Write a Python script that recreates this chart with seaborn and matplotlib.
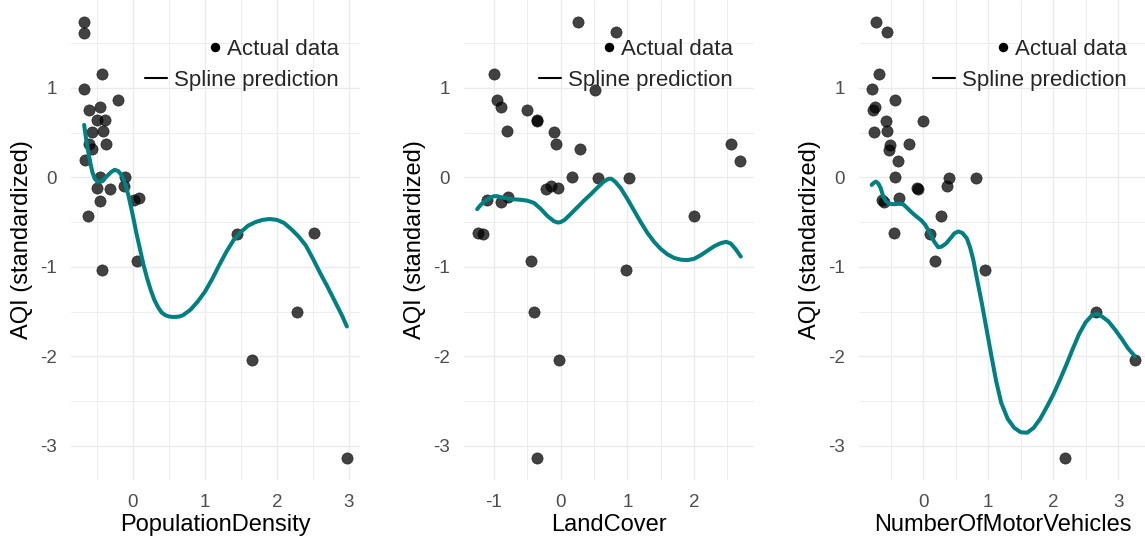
import matplotlib
matplotlib.use("Agg")
import matplotlib.pyplot as plt
from matplotlib.ticker import MultipleLocator
from matplotlib.lines import Line2D
import seaborn as sns
import pandas as pd

# ---------------- data ----------------
pd_x = [-0.674, -0.674, -0.43, -0.674, -0.20, -0.60, -0.46, -0.49, -0.38, -0.57, -0.415,
        -0.60, -0.56, -0.37, -0.66, -0.45, -0.107, -0.49, -0.32, -0.12, -0.46, 0.018,
        0.083, -0.615, 1.44, 2.51, 0.055, -0.43, 2.28, 1.66, 2.97]
pd_y = [1.74, 1.62, 1.157, 0.985, 0.866, 0.754, 0.79, 0.64, 0.64, 0.51, 0.52,
        0.374, 0.315, 0.374, 0.19, 0.009, 0.002, -0.12, -0.13, -0.10, -0.26, -0.25,
        -0.23, -0.43, -0.63, -0.62, -0.94, -1.04, -1.506, -2.04, -3.14]
pd_curve_x = [-0.674, -0.65, -0.62, -0.59, -0.56, -0.53, -0.49, -0.45, -0.40, -0.35, -0.30,
              -0.25, -0.20, -0.15, -0.10, -0.06, -0.03, 0.0, 0.05, 0.10, 0.15, 0.20, 0.25,
              0.30, 0.35, 0.40, 0.45, 0.50, 0.55, 0.60, 0.65, 0.70, 0.80, 0.90, 1.0, 1.1,
              1.2, 1.3, 1.4, 1.5, 1.6, 1.7, 1.8, 1.9, 2.0, 2.1, 2.2, 2.3, 2.4, 2.5, 2.6,
              2.7, 2.8, 2.9, 2.97]
pd_curve_y = [0.587, 0.45, 0.30, 0.17, 0.06, -0.01, -0.05, -0.05, -0.02, 0.02, 0.06,
              0.085, 0.07, 0.02, -0.08, -0.20, -0.31, -0.42, -0.62, -0.80, -0.98, -1.13, -1.26,
              -1.37, -1.45, -1.51, -1.54, -1.555, -1.56, -1.56, -1.555, -1.54, -1.48, -1.39, -1.28, -1.14,
              -0.98, -0.83, -0.70, -0.61, -0.54, -0.50, -0.475, -0.465, -0.475, -0.51, -0.58, -0.66, -0.76, -0.91, -1.07,
              -1.22, -1.38, -1.54, -1.667]

lc_x = [0.26, 0.835, -1.0, 0.51, -0.955, -0.89, -0.5, -0.355, -0.36, -0.8, -0.1,
        -0.075, 0.295, 2.55, 2.69, 0.175, 0.56, 1.025, -0.215, -0.15, -0.04, -1.11,
        -0.89, -0.79, 2.0, -1.24, -1.17, -0.44, 0.975, -0.4, -0.03, -0.35]
lc_y = [1.74, 1.63, 1.157, 0.978, 0.866, 0.79, 0.754, 0.635, 0.64, 0.523, 0.512,
        0.37, 0.315, 0.374, 0.188, 0.009, -0.01, -0.01, -0.13, -0.095, -0.12, -0.25,
        -0.27, -0.22, -0.43, -0.62, -0.635, -0.94, -1.04, -1.506, -2.04, -3.14]
lc_curve_x = [-1.25, -1.2, -1.15, -1.1, -1.05, -1.0, -0.95, -0.9, -0.8, -0.7, -0.6, -0.5,
              -0.4, -0.3, -0.2, -0.1, -0.04, 0.0, 0.06, 0.15, 0.25, 0.35, 0.45, 0.55, 0.65,
              0.72, 0.76, 0.82, 0.9, 1.0, 1.1, 1.2, 1.3, 1.4, 1.5, 1.6, 1.7, 1.8, 1.9, 2.0,
              2.1, 2.2, 2.3, 2.4, 2.48, 2.55, 2.62, 2.70]
lc_curve_y = [-0.355, -0.31, -0.275, -0.25, -0.225, -0.21, -0.21, -0.22, -0.235, -0.245, -0.25, -0.26,
              -0.285, -0.35, -0.43, -0.49, -0.505, -0.50, -0.475, -0.41, -0.335, -0.26, -0.19, -0.115, -0.045,
              -0.015, -0.015, -0.05, -0.12, -0.24, -0.37, -0.50, -0.62, -0.72, -0.80, -0.86, -0.90, -0.92, -0.925, -0.91,
              -0.87, -0.82, -0.77, -0.735, -0.72, -0.74, -0.80, -0.885]

mv_x = [-0.728, -0.554, -0.677, -0.794, -0.435, -0.743, -0.77, -0.574, -0.01, -0.758,
        -0.563, -0.51, -0.215, -0.523, -0.385, -0.435, 0.40, 0.81, -0.092, -0.085, 0.37,
        -0.64, -0.605, -0.37, 0.272, -0.45, 0.103, 0.18, 0.95, 2.657, 3.257, 2.18]
mv_y = [1.74, 1.63, 1.157, 0.985, 0.866, 0.79, 0.754, 0.635, 0.635, 0.512,
        0.523, 0.363, 0.374, 0.307, 0.188, 0.009, -0.01, -0.01, -0.12, -0.13, -0.10,
        -0.25, -0.27, -0.23, -0.43, -0.62, -0.635, -0.94, -1.04, -1.506, -2.04, -3.14]
mv_curve_x = [-0.794, -0.76, -0.728, -0.69, -0.655, -0.615, -0.57, -0.52, -0.45, -0.38, -0.31,
              -0.25, -0.18, -0.1, -0.03, 0.03, 0.1, 0.17, 0.23, 0.28, 0.35, 0.42, 0.48, 0.54,
              0.60, 0.67, 0.72, 0.77, 0.83, 0.9, 0.975, 1.05, 1.12, 1.2, 1.3, 1.4, 1.5, 1.6,
              1.7, 1.8, 1.9, 2.0, 2.1, 2.2, 2.3, 2.4, 2.5, 2.6, 2.68, 2.76, 2.85, 2.95, 3.05,
              3.15, 3.257]
mv_curve_y = [-0.084, -0.06, -0.047, -0.07, -0.12, -0.215, -0.27, -0.295, -0.30, -0.295, -0.30,
              -0.34, -0.39, -0.44, -0.48, -0.53, -0.62, -0.72, -0.78, -0.775, -0.74, -0.68, -0.625, -0.605,
              -0.62, -0.68, -0.78, -0.92, -1.145, -1.40, -1.70, -2.0, -2.27, -2.52, -2.70, -2.80, -2.85, -2.855,
              -2.80, -2.70, -2.57, -2.43, -2.27, -2.10, -1.92, -1.75, -1.62, -1.54, -1.525, -1.56, -1.61, -1.70, -1.80,
              -1.91, -2.0]

x_titles = ["PopulationDensity", "LandCover", "NumberOfMotorVehicles"]
y_title = "AQI (standardized)"
legend_labels = ["Actual data", "Spline prediction"]

panels = [
    (pd_x, pd_y, pd_curve_x, pd_curve_y),
    (lc_x, lc_y, lc_curve_x, lc_curve_y),
    (mv_x, mv_y, mv_curve_x, mv_curve_y),
]

# ---------------- style ----------------
sns.set_theme(style="white")
plt.rcParams["font.family"] = ["Liberation Sans", "DejaVu Sans"]
plt.rcParams["axes.unicode_minus"] = False

TEAL = "#008080"
GRID = "#EBEBEB"

fig = plt.figure(figsize=(11.45, 5.45), dpi=100)
W, H = 1145.0, 545.0
lefts = [71, 464, 858.5]
widths = [289, 290, 289.5]
bottom = 65 / H
height = 480 / H

for i, (px, py, cx, cy) in enumerate(panels):
    ax = fig.add_axes([lefts[i] / W, bottom, widths[i] / W, height])
    pts = pd.DataFrame({"x": px, "y": py})
    crv = pd.DataFrame({"x": cx, "y": cy})
    sns.scatterplot(data=pts, x="x", y="y", ax=ax, color="black", alpha=0.74,
                    s=66, edgecolor="black", linewidth=0.4, zorder=3, legend=False)
    sns.lineplot(data=crv, x="x", y="y", ax=ax, color=TEAL, linewidth=2.9,
                 estimator=None, sort=False, zorder=4, legend=False)
    ax.margins(x=0.05, y=0.05)
    ax.xaxis.set_major_locator(MultipleLocator(1))
    ax.xaxis.set_minor_locator(MultipleLocator(0.5))
    ax.yaxis.set_major_locator(MultipleLocator(1))
    ax.yaxis.set_minor_locator(MultipleLocator(0.5))
    ax.grid(which="major", color=GRID, linewidth=1.0)
    ax.grid(which="minor", color=GRID, linewidth=0.6)
    ax.set_axisbelow(True)
    for s in ax.spines.values():
        s.set_visible(False)
    ax.tick_params(which="both", length=0, labelsize=13.5, labelcolor="#4D4D4D")
    ax.tick_params(axis="x", pad=10)
    ax.tick_params(axis="y", pad=10)
    ax.set_xlabel(x_titles[i], fontsize=17, color="black", labelpad=2)
    ax.set_ylabel(y_title, fontsize=17, color="black", labelpad=5)

    h1 = Line2D([], [], marker="o", linestyle="none", color="black", markersize=5.8)
    h2 = Line2D([], [], color="black", linewidth=1.5)
    xr = 1 - 21 / widths[i]
    leg1 = ax.legend([h1], [legend_labels[0]], loc="upper right",
                     bbox_to_anchor=(xr, 1 - 39 / 480), frameon=False, fontsize=16,
                     borderpad=0, borderaxespad=0, handlelength=0.6, handletextpad=0.25)
    ax.add_artist(leg1)
    ax.legend([h2], [legend_labels[1]], loc="upper right",
              bbox_to_anchor=(xr, 1 - 70 / 480), frameon=False, fontsize=16,
              borderpad=0, borderaxespad=0, handlelength=1.0, handletextpad=0.32)

fig.savefig("out.png", dpi=100)
